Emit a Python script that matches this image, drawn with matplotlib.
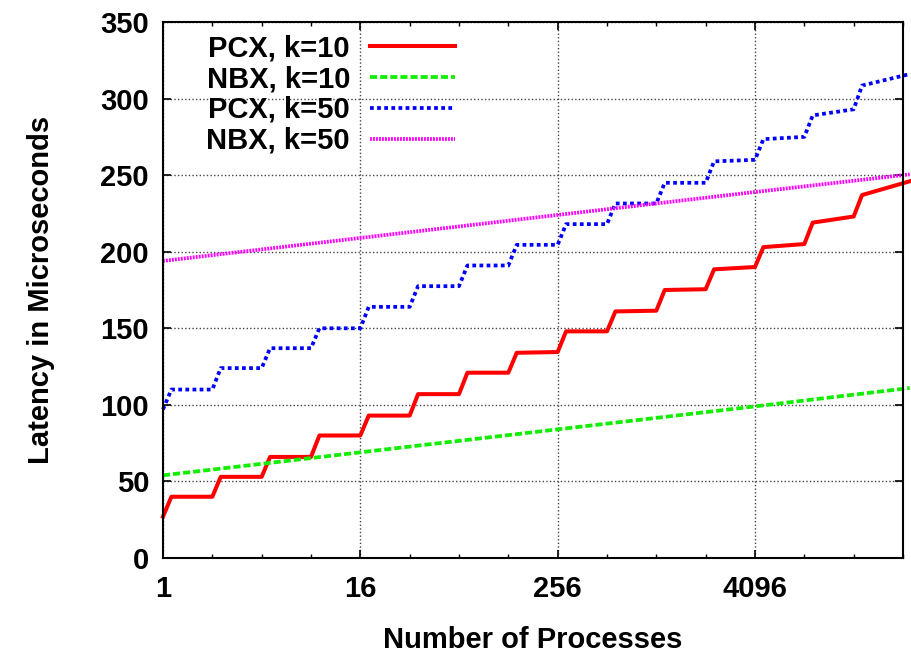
#!/usr/bin/env python3
# -*- coding: utf-8 -*-

import matplotlib
matplotlib.use('Agg')
from matplotlib import pyplot as plt
from matplotlib.ticker import FixedLocator, NullFormatter

plt.rcParams['font.family'] = ['Liberation Sans', 'DejaVu Sans']
plt.rcParams['font.weight'] = 'bold'
plt.rcParams['axes.labelweight'] = 'bold'

# step series: value at x=1, then per doubling k the level just after the
# jump at 2^k and the level just before the next jump at 2^(k+1)
step_exp = list(range(15))
x_end = 36000

pcx10_first = 27
pcx10_start = [40, 53, 66, 80, 93, 107, 121, 134, 148, 161, 175, 188.5, 203, 219, 237]
pcx10_stop = [40, 53, 66, 80, 93, 107, 121, 134.5, 148, 161.5, 175.5, 190, 205, 223, 246]

pcx50_first = 97
pcx50_start = [110, 124, 137, 150, 164, 177.5, 191, 204.5, 218, 231.5, 245, 259, 273.5, 289, 308.5]
pcx50_stop = [110, 124, 137, 150, 164, 177.5, 191, 204.5, 218, 231.5, 245, 260, 275, 293, 316]

nbx_x = [1, 16, 256, 4096, x_end]
nbx10 = [54, 69, 84, 99, 111]
nbx50 = [194, 209, 224, 239, 250.5]

xtick_vals = [1, 16, 256, 4096]
xtick_labels = ['1', '16', '256', '4096']
ytick_vals = [0, 50, 100, 150, 200, 250, 300, 350]


def step_line(first, start, stop):
    xs, ys = [1], [first]
    for i, k in enumerate(step_exp):
        xs.append(2 ** (k + 0.17))
        ys.append(start[i])
        xs.append(2 ** (k + 1) if i < len(step_exp) - 1 else x_end)
        ys.append(stop[i])
    return xs, ys


fig = plt.figure(figsize=(9.12, 6.54), dpi=100)
ax = fig.add_axes([163 / 912, 1 - 558 / 654, 740 / 912, 536 / 654])

lw = 2.7
x, y = step_line(pcx10_first, pcx10_start, pcx10_stop)
ax.plot(x, y, color='#ff0000', lw=2.9, label='PCX, k=10', clip_on=False)
ax.plot(nbx_x, nbx10, color='#11ee00', lw=lw, dashes=(1.9, 0.8),
        dash_capstyle='butt', label='NBX, k=10', clip_on=False)
x, y = step_line(pcx50_first, pcx50_start, pcx50_stop)
ax.plot(x, y, color='#0000ff', lw=lw, dashes=(1, 0.9),
        dash_capstyle='butt', label='PCX, k=50', clip_on=False)
ax.plot(nbx_x, nbx50, color='#ff00ff', lw=lw, dashes=(0.5, 0.3),
        dash_capstyle='butt', label='NBX, k=50', clip_on=False)

ax.set_xscale('log', base=2)
ax.set_xlim(1, 32768)
ax.set_ylim(0, 350)
ax.xaxis.set_major_locator(FixedLocator(xtick_vals))
ax.set_xticklabels(xtick_labels)
ax.xaxis.set_minor_locator(FixedLocator([2 ** k for k in range(16)]))
ax.xaxis.set_minor_formatter(NullFormatter())
ax.set_yticks(ytick_vals)

ax.tick_params(which='both', direction='in', top=True, right=True, labelsize=21)
ax.tick_params(which='major', length=6, width=1.2, pad=12)
ax.tick_params(which='minor', length=3, width=1.0)
ax.tick_params(axis='y', pad=10)
for s in ax.spines.values():
    s.set_linewidth(1.5)
ax.grid(True, which='major', color='#444444', ls=(0, (1, 1.6)), lw=1.0)

ax.set_xlabel('Number of Processes', fontsize=21, labelpad=17)
ax.set_ylabel('Latency in Microseconds', fontsize=21, labelpad=33)

ax.legend(loc='upper left', bbox_to_anchor=(0.035, 1.01), frameon=False,
          markerfirst=False, fontsize=21, handlelength=2.9, handletextpad=0.7,
          labelspacing=0.1, borderaxespad=0.2)

fig.savefig('out.png', dpi=100)
